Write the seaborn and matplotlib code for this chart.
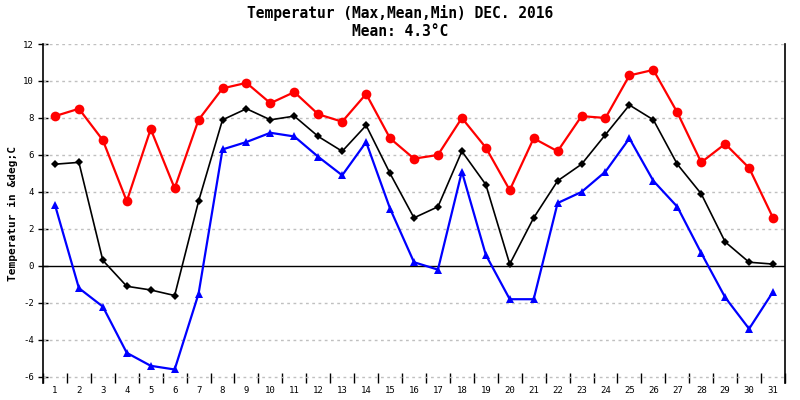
import numpy as np
import pandas as pd
import matplotlib
matplotlib.use('Agg')
import matplotlib.pyplot as plt
import seaborn as sns

# daily values
days = list(range(1, 32))
t_max = [8.1, 8.5, 6.8, 3.5, 7.4, 4.2, 7.9, 9.6, 9.9, 8.8, 9.4, 8.2, 7.8, 9.3, 6.9, 5.8,
         6.0, 8.0, 6.4, 4.1, 6.9, 6.2, 8.1, 8.0, 10.3, 10.6, 8.3, 5.6, 6.6, 5.3, 2.6]
t_mean = [5.5, 5.6, 0.3, -1.1, -1.3, -1.6, 3.5, 7.9, 8.5, 7.9, 8.1, 7.0, 6.2, 7.6, 5.0, 2.6,
          3.2, 6.2, 4.4, 0.1, 2.6, 4.6, 5.5, 7.1, 8.7, 7.9, 5.5, 3.9, 1.3, 0.2, 0.1]
t_min = [3.3, -1.2, -2.2, -4.7, -5.4, -5.6, -1.5, 6.3, 6.7, 7.2, 7.0, 5.9, 4.9, 6.7, 3.1, 0.2,
         -0.2, 5.1, 0.6, -1.8, -1.8, 3.4, 4.0, 5.1, 6.9, 4.6, 3.2, 0.7, -1.7, -3.4, -1.4]
y_ticks = [-6, -4, -2, 0, 2, 4, 6, 8, 10, 12]

df = pd.DataFrame({'day': days, 'max': t_max, 'mean': t_mean, 'min': t_min})

sns.set_style('white')
plt.rcParams['font.family'] = ['DejaVu Sans Mono', 'DejaVu Sans']
plt.rcParams['text.color'] = 'black'
plt.rcParams['xtick.color'] = 'black'
plt.rcParams['ytick.color'] = 'black'
plt.rcParams['axes.labelcolor'] = 'black'

fig = plt.figure(figsize=(8, 4), dpi=100)
ax = fig.add_axes([43 / 800, 1 - 383 / 400, 742 / 800, 339 / 400])

# grid and zero line
for v in y_ticks:
    if v == 0:
        ax.axhline(v, color='black', lw=1, zorder=1)
    else:
        ax.axhline(v, color='#c0c0c0', lw=1, ls=(0, (2, 2.5)), zorder=1)

sns.lineplot(data=df, x='day', y='max', color='#ff0000', lw=1.6, marker='o',
             markersize=7, markeredgewidth=0, ax=ax, zorder=3)
sns.lineplot(data=df, x='day', y='mean', color='black', lw=1.2, marker='D',
             markersize=4.5, markeredgewidth=0, ax=ax, zorder=3)
sns.lineplot(data=df, x='day', y='min', color='#0000ff', lw=1.6, marker='^',
             markersize=6, markeredgewidth=0, ax=ax, zorder=3)

ax.set_xlim(0.5, 31.5)
ax.set_ylim(-6.33, 12)

ax.set_xticks(days)
ax.set_xticklabels([str(d) for d in days], fontsize=6.5)
ax.set_xticks(np.arange(0.5, 32, 1), minor=True)
ax.tick_params(axis='x', which='both', bottom=True)
ax.tick_params(axis='x', which='major', length=0, pad=2.5)
ax.tick_params(axis='x', which='minor', length=7, width=1, direction='in')

ax.set_yticks(y_ticks)
ax.set_yticklabels([str(v) for v in y_ticks], fontsize=6.5)
ax.tick_params(axis='y', which='major', left=True, length=7, width=1, direction='inout', pad=3)

for side in ['top', 'bottom']:
    ax.spines[side].set_visible(False)
for side in ['left', 'right']:
    ax.spines[side].set_color('black')
    ax.spines[side].set_linewidth(1.2)

ax.set_xlabel('')
ax.set_ylabel('Temperatur in &deg;C', fontsize=8, fontweight='bold', labelpad=4)

fig.text(0.5, 1 - 13 / 400, 'Temperatur (Max,Mean,Min) DEC. 2016', ha='center', va='center',
         fontsize=10.5, fontweight='bold')
fig.text(0.5, 1 - 31 / 400, 'Mean: 4.3°C', ha='center', va='center',
         fontsize=10.5, fontweight='bold')

fig.savefig('out.png', dpi=100)
